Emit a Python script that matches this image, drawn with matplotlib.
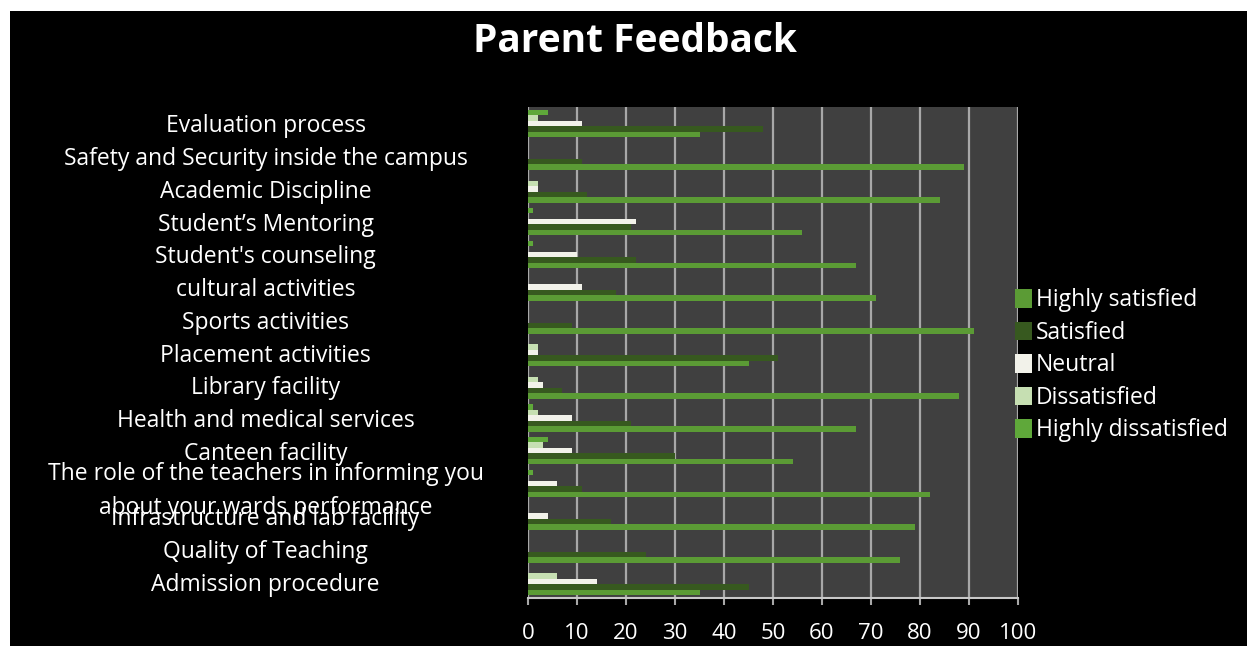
import numpy as np
import matplotlib.pyplot as plt
from matplotlib.patches import Rectangle

plt.rcParams['font.family'] = ['Open Sans', 'DejaVu Sans']

# categories from bottom to top
categories = [
    "Admission procedure",
    "Quality of Teaching",
    "Infrastructure and lab facility",
    "The role of the teachers in informing you\nabout your wards performance",
    "Canteen facility",
    "Health and medical services",
    "Library facility",
    "Placement activities",
    "Sports activities",
    "cultural activities",
    "Student's counseling",
    "Student\u2019s Mentoring",
    "Academic Discipline",
    "Safety and Security inside the campus",
    "Evaluation process",
]

series_names = ["Highly satisfied", "Satisfied", "Neutral", "Dissatisfied", "Highly dissatisfied"]

highly_satisfied = [35, 76, 79, 82, 54, 67, 88, 45, 91, 71, 67, 56, 84, 89, 35]
satisfied = [45, 24, 17, 11, 30, 21, 7, 51, 9, 18, 22, 21, 12, 11, 48]
neutral = [14, 0, 4, 6, 9, 9, 3, 2, 0, 11, 10, 22, 2, 0, 11]
dissatisfied = [6, 0, 0, 0, 3, 2, 2, 2, 0, 0, 0, 0, 2, 0, 2]
highly_dissatisfied = [0, 0, 0, 1, 4, 1, 0, 0, 0, 0, 1, 1, 0, 0, 4]

values = [highly_satisfied, satisfied, neutral, dissatisfied, highly_dissatisfied]
colors = ["#5b9b35", "#37591f", "#f2f2ea", "#c6dfb2", "#5fa83a"]

fig = plt.figure(figsize=(12.47, 6.46), dpi=100, facecolor="white")
# black chart area (small white margin on top/left like the screenshot)
fig.patches.append(Rectangle((10 / 1247, 0), 1, 1 - 11 / 646, transform=fig.transFigure,
                             facecolor="black", edgecolor="none", zorder=-10))

ax = fig.add_axes([528 / 1247, 1 - 598 / 646, 490 / 1247, 491 / 646])
ax.set_facecolor("#404040")

y = np.arange(len(categories))
h = 0.168
for i, (name, vals, c) in enumerate(zip(series_names, values, colors)):
    ax.barh(y + (i - 2) * h, vals, height=h, color=c, label=name, zorder=3)

ax.set_xlim(0, 100)
ax.set_ylim(-0.5, len(categories) - 0.5)
ax.set_xticks(np.arange(0, 101, 10))
ax.grid(axis="x", color="#a8a8a8", linewidth=1.6, zorder=1)
ax.set_yticks(y)
ax.set_yticklabels(categories, linespacing=1.55)
for lbl in ax.get_yticklabels():
    lbl.set_ha("center")
ax.tick_params(axis="y", length=0, pad=189, labelsize=16.5, labelcolor="white")
ax.tick_params(axis="x", length=5, color="#a8a8a8", width=1.5, labelsize=16,
               labelcolor="white", pad=13)
for s in ["top", "right", "left"]:
    ax.spines[s].set_visible(False)
ax.spines["bottom"].set_color("#c8c8c8")
ax.spines["bottom"].set_linewidth(1.5)

fig.text(635 / 1247, 1 - 42 / 646, "Parent Feedback", ha="center", va="center",
         fontsize=28, fontweight="bold", color="white")

leg = ax.legend(loc="upper left", bbox_to_anchor=(1004 / 1247, 1 - 277 / 646),
                bbox_transform=fig.transFigure, frameon=False, fontsize=16.5,
                labelcolor="white", handlelength=0.7, handleheight=0.85,
                handletextpad=0.2, labelspacing=0.37, borderpad=0)

fig.savefig("out.png", dpi=100, facecolor=fig.get_facecolor())
